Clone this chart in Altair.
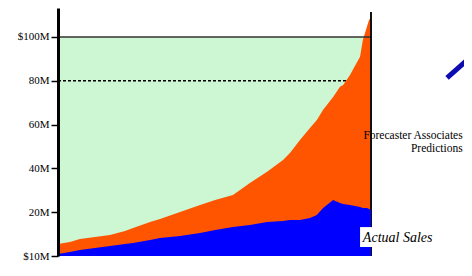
import altair as alt
import pandas as pd

# ---- data ----
period = [0, 3.8, 7.0, 11.8, 16.6, 21.4, 24.0, 29.4, 32.6, 39.0, 45.4, 50.2, 55.9,
          61.3, 66.8, 71.9, 74.1, 77.3, 80.5, 82.7, 84.7, 87.9, 90.1, 91.1, 93.3,
          94.9, 96.5, 97.4, 98.7, 99.4, 100]
predicted = [5.5, 6.4, 7.8, 8.7, 9.6, 11.4, 12.8, 15.5, 16.9, 20.1, 23.3, 25.6, 27.9,
             33.3, 38.4, 43.8, 47.0, 52.9, 58.4, 62.1, 66.7, 72.6, 77.2, 78.1, 82.6,
             86.8, 90.9, 98.6, 104.6, 107.8, 108.7]
actual = [0.9, 1.8, 2.7, 3.7, 4.6, 5.5, 5.9, 7.3, 8.2, 9.1, 10.5, 11.9, 13.2,
          14.2, 15.5, 16.0, 16.4, 16.4, 17.4, 18.7, 21.9, 25.6, 24.2, 23.7, 23.3,
          22.8, 22.4, 21.9, 21.9, 21.5, 21.0]

tick_values = [0, 20, 40, 60, 80, 100]
tick_labels = ["$10M", "20M", "40M", "60M", "80M", "$100M"]
pred_label = "Forecaster Associates\nPredictions"
actual_label = "Actual Sales"

df = pd.DataFrame({"t": period, "pred": predicted, "act": actual})

label_map = "{" + ",".join(f"'{v}':'{l}'" for v, l in zip(tick_values, tick_labels)) + "}"

xs = alt.Scale(domain=[0, 100], nice=False, zero=False)
ys = alt.Scale(domain=[0, 113.2], nice=False)

yaxis = alt.Axis(values=tick_values, labelExpr=f"{label_map}[datum.value]",
                 title=None, grid=False, domainColor="black", domainWidth=3,
                 tickColor="black", tickWidth=1.5, tickSize=7,
                 labelFont="Liberation Serif", labelFontSize=11,
                 labelColor="black", labelPadding=2, zindex=1)

def X(f):
    return alt.X(f, type="quantitative", scale=xs, axis=None, title=None)

def Y(f):
    return alt.Y(f, type="quantitative", scale=ys, axis=yaxis, title=None)

green_df = pd.DataFrame({"x0": [0], "x1": [100], "y0": [0], "y1": [100]})
green = alt.Chart(green_df).mark_rect(color="#cdf7d3").encode(
    x=X("x0"), x2="x1", y=Y("y0"), y2="y1"
)

dot_df = pd.DataFrame({"x0": [0], "x1": [100], "y": [80]})
dotted = alt.Chart(dot_df).mark_rule(color="black", strokeWidth=1.5, strokeDash=[3, 2]).encode(
    x=X("x0"), x2="x1", y=Y("y")
)

orange = alt.Chart(df).mark_area(color="#ff5500", opacity=1).encode(
    x=X("t"), y=Y("pred")
)

top_df = pd.DataFrame({"x0": [0], "x1": [100], "y": [100]})
top_line = alt.Chart(top_df).mark_rule(color="#333333", strokeWidth=1.5).encode(
    x=X("x0"), x2="x1", y=Y("y")
)

right_df = pd.DataFrame({"x": [100], "y0": [0], "y1": [111.4]})
right_line = alt.Chart(right_df).mark_rule(color="#111111", strokeWidth=2).encode(
    x=X("x"), y=Y("y0"), y2="y1"
)

blue = alt.Chart(df).mark_area(color="#0000ff", opacity=1).encode(
    x=X("t"), y=Y("act")
)

box_df = pd.DataFrame({"x0": [96.5], "x1": [101.5], "y0": [4.1], "y1": [13.2]})
white_box = alt.Chart(box_df).mark_rect(color="white").encode(
    x=X("x0"), x2="x1", y=Y("y0"), y2="y1"
)

pt_df = pd.DataFrame({"x": [129.3], "y": [57.5], "label": [pred_label]})
pred_text = alt.Chart(pt_df).mark_text(
    align="right", baseline="top", font="Liberation Serif", fontSize=11.5,
    lineHeight=13, color="black", lineBreak="\n"
).encode(x=X("x"), y=Y("y"), text="label:N")

at_df = pd.DataFrame({"x": [97.4], "y": [8.2], "label": [actual_label]})
act_text = alt.Chart(at_df).mark_text(
    align="left", baseline="middle", font="Liberation Serif", fontSize=14,
    fontStyle="italic", color="black"
).encode(x=X("x"), y=Y("y"), text="label:N")

arr_df = pd.DataFrame({"x0": [124.3], "x1": [133.5], "y0": [81.3], "y1": [93.0]})
arrow = alt.Chart(arr_df).mark_rule(color="#0c0cb0", strokeWidth=5).encode(
    x=X("x0"), x2="x1", y=Y("y0"), y2="y1"
)

chart = alt.layer(
    green, dotted, orange, top_line, right_line, blue, white_box, pred_text, act_text, arrow
).properties(
    width=313, height=248,
    autosize=alt.AutoSizeParams(type="none"),
    padding={"left": 50, "top": 0, "right": 93, "bottom": 12},
    background="white",
).configure_view(stroke=None)

chart.save("out.html", embed_options={"renderer": "svg", "actions": False})
